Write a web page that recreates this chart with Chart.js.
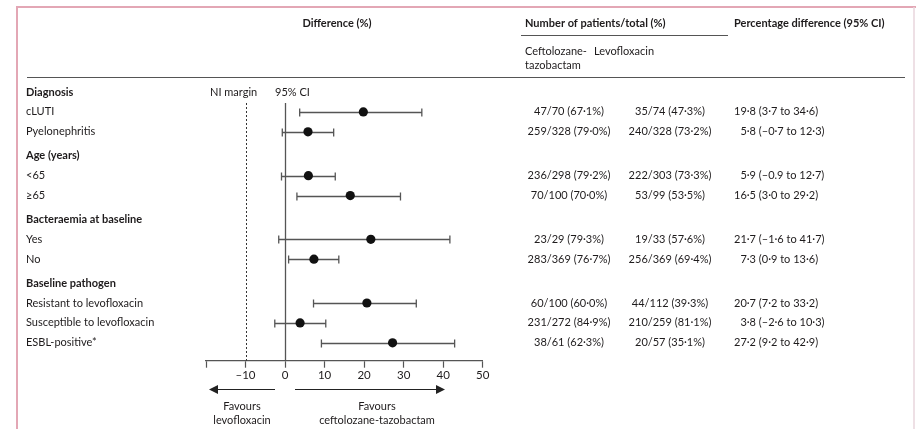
<!DOCTYPE html>
<html>
<head>
<meta charset="utf-8">
<script src="https://cdn.jsdelivr.net/npm/chart.js@4.4.0/dist/chart.umd.min.js"></script>
<style>
html,body{margin:0;padding:0;background:#fff;}
#wrap{position:relative;width:916px;height:429px;}
</style>
</head>
<body>
<div id="wrap"><canvas id="c" width="916" height="429"></canvas></div>
<script>
// ---- data ----
const groups = ["Diagnosis", "Age (years)", "Bacteraemia at baseline", "Baseline pathogen"];
const groupSizes = [2, 2, 2, 3];
const subgroups = ["cLUTI", "Pyelonephritis", "<65", "\u226565", "Yes", "No",
  "Resistant to levofloxacin", "Susceptible to levofloxacin", "ESBL-positive*"];
const estimate = [19.8, 5.8, 5.9, 16.5, 21.7, 7.3, 20.7, 3.8, 27.2];
const ciLow    = [3.7, -0.7, -0.9, 3.0, -1.6, 0.9, 7.2, -2.6, 9.2];
const ciHigh   = [34.6, 12.3, 12.7, 29.2, 41.7, 13.6, 33.2, 10.3, 42.9];
const ceftoText = ["47/70 (67\u00b71%)", "259/328 (79\u00b70%)", "236/298 (79\u00b72%)", "70/100 (70\u00b70%)",
  "23/29 (79\u00b73%)", "283/369 (76\u00b77%)", "60/100 (60\u00b70%)", "231/272 (84\u00b79%)", "38/61 (62\u00b73%)"];
const levoText = ["35/74 (47\u00b73%)", "240/328 (73\u00b72%)", "222/303 (73\u00b73%)", "53/99 (53\u00b75%)",
  "19/33 (57\u00b76%)", "256/369 (69\u00b74%)", "44/112 (39\u00b73%)", "210/259 (81\u00b71%)", "20/57 (35\u00b71%)"];
const diffText = ["19\u00b78 (3\u00b77 to 34\u00b76)", "5\u00b78 (\u20130\u00b77 to 12\u00b73)", "5\u00b79 (\u20130.9 to 12\u00b77)",
  "16\u00b75 (3\u00b70 to 29\u00b72)", "21\u00b77 (\u20131\u00b76 to 41\u00b77)", "7\u00b73 (0\u00b79 to 13\u00b76)",
  "20\u00b77 (7\u00b72 to 33\u00b72)", "3\u00b78 (\u20132\u00b76 to 10\u00b73)", "27\u00b72 (9\u00b72 to 42\u00b79)"];
const xTicks = [-20, -10, 0, 10, 20, 30, 40, 50];
const niMargin = -10;

// ---- derive row positions from group structure ----
const headerRows = []; const subRows = [];
(function(){
  let pos = 0;
  groups.forEach((g, gi) => {
    if (gi > 0) pos += 0.2;
    headerRows.push({label: g, y: pos});
    pos += 1;
    for (let k = 0; k < groupSizes[gi]; k++) { subRows.push(pos); pos += 1; }
  });
})();

const FONT = "Lato, 'Open Sans', sans-serif";
const TXT = "#1e1b1c";

const overlay = {
  id: 'overlay',
  beforeDatasetsDraw(chart) {
    const {ctx, scales:{x, y}} = chart;
    ctx.save();
    const yTop = y.getPixelForValue(0.55), yBot = chart.chartArea.bottom;
    // zero line
    ctx.strokeStyle = "#555"; ctx.lineWidth = 1.3;
    const x0 = Math.round(x.getPixelForValue(0)) + 0.5;
    ctx.beginPath(); ctx.moveTo(x0, yTop); ctx.lineTo(x0, yBot); ctx.stroke();
    // NI margin
    ctx.setLineDash([2, 2]); ctx.lineWidth = 1; ctx.strokeStyle = "#333";
    const xn = Math.round(x.getPixelForValue(niMargin)) + 0.5;
    ctx.beginPath(); ctx.moveTo(xn, yTop); ctx.lineTo(xn, yBot); ctx.stroke();
    ctx.setLineDash([]);
    // CI bars
    ctx.strokeStyle = "#555"; ctx.lineWidth = 1.3;
    subRows.forEach((r, i) => {
      const py = Math.round(y.getPixelForValue(r)) + 0.5;
      const x1 = x.getPixelForValue(ciLow[i]), x2 = x.getPixelForValue(ciHigh[i]);
      ctx.beginPath();
      ctx.moveTo(x1, py); ctx.lineTo(x2, py);
      ctx.moveTo(x1, py - 4); ctx.lineTo(x1, py + 4);
      ctx.moveTo(x2, py - 4); ctx.lineTo(x2, py + 4);
      ctx.stroke();
    });
    ctx.restore();
  },
  afterDraw(chart) {
    const {ctx, scales:{x, y}} = chart;
    ctx.save();
    // border
    ctx.strokeStyle = "#e3a7b5"; ctx.lineWidth = 2;
    ctx.beginPath(); ctx.moveTo(17, 429); ctx.lineTo(17, 7); ctx.lineTo(916, 7); ctx.stroke();
    ctx.strokeStyle = "#e8d6dc"; ctx.lineWidth = 1.5;
    ctx.beginPath(); ctx.moveTo(914, 7); ctx.lineTo(914, 429); ctx.stroke();
    // header rules
    ctx.strokeStyle = "#555"; ctx.lineWidth = 1.2;
    ctx.beginPath(); ctx.moveTo(27, 77.5); ctx.lineTo(905, 77.5); ctx.stroke();
    ctx.lineWidth = 1;
    ctx.beginPath(); ctx.moveTo(521, 35.5); ctx.lineTo(728, 35.5); ctx.stroke();

    ctx.fillStyle = TXT; ctx.textBaseline = "middle";
    // headers
    ctx.font = "bold 11px " + FONT;
    ctx.textAlign = "center"; ctx.fillText("Difference (%)", 337, 23);
    ctx.textAlign = "left";
    ctx.fillText("Number of patients/total (%)", 525, 23);
    ctx.fillText("Percentage difference (95% CI)", 734, 23);
    ctx.font = "11px " + FONT;
    ctx.fillText("Ceftolozane-", 525, 51);
    ctx.fillText("tazobactam", 525, 65);
    ctx.fillText("Levofloxacin", 594, 51);
    // NI margin / 95% CI
    ctx.fillText("NI margin", 210, y.getPixelForValue(0));
    ctx.fillText("95% CI", 275, y.getPixelForValue(0));
    // row labels
    headerRows.forEach(h => {
      ctx.font = "bold 11px " + FONT; ctx.textAlign = "left";
      ctx.fillText(h.label, 26, y.getPixelForValue(h.y));
    });
    ctx.font = "11px " + FONT;
    const digitW = ctx.measureText("0").width;
    subRows.forEach((r, i) => {
      const py = y.getPixelForValue(r);
      ctx.textAlign = "left"; ctx.fillText(subgroups[i], 26, py);
      ctx.textAlign = "center";
      ctx.fillText(ceftoText[i], 569, py);
      ctx.fillText(levoText[i], 670, py);
      ctx.textAlign = "left";
      const lead = diffText[i].indexOf("\u00b7");
      ctx.fillText(diffText[i], 734 + (2 - lead) * digitW, py);
    });
    // arrows
    ctx.strokeStyle = "#222"; ctx.fillStyle = "#222"; ctx.lineWidth = 1.2;
    const ay = 389.5;
    ctx.beginPath(); ctx.moveTo(216, ay); ctx.lineTo(275, ay); ctx.stroke();
    ctx.beginPath(); ctx.moveTo(209, ay); ctx.lineTo(218, ay - 4.5); ctx.lineTo(218, ay + 4.5); ctx.closePath(); ctx.fill();
    ctx.beginPath(); ctx.moveTo(295, ay); ctx.lineTo(438, ay); ctx.stroke();
    ctx.beginPath(); ctx.moveTo(445, ay); ctx.lineTo(436, ay - 4.5); ctx.lineTo(436, ay + 4.5); ctx.closePath(); ctx.fill();
    ctx.fillStyle = TXT; ctx.textAlign = "center"; ctx.font = "11px " + FONT;
    ctx.fillText("Favours", 242, 406);
    ctx.fillText("levofloxacin", 242, 420);
    ctx.fillText("Favours", 377, 406);
    ctx.fillText("ceftolozane-tazobactam", 377, 420);
    ctx.restore();
  }
};

new Chart(document.getElementById('c'), {
  type: 'scatter',
  data: {
    datasets: [{
      data: subRows.map((r, i) => ({x: estimate[i], y: r})),
      pointRadius: 4.6,
      pointHoverRadius: 4.6,
      backgroundColor: "#111",
      borderColor: "#111",
      borderWidth: 0
    }]
  },
  options: {
    responsive: false,
    animation: false,
    events: [],
    layout: { padding: { left: 206, right: 433.3, top: 82.1, bottom: 44.3 } },
    plugins: { legend: { display: false }, tooltip: { enabled: false } },
    scales: {
      x: {
        type: 'linear', min: -20, max: 50,
        afterBuildTicks: s => { s.ticks = xTicks.map(v => ({value: v})); },
        afterFit: s => { s.height = 24; },
        ticks: {
          color: TXT, font: { family: FONT, size: 11.5 }, padding: 1,
          callback: v => v === -20 ? '' : (v < 0 ? '\u2013' + Math.abs(v) : String(v))
        },
        grid: { drawOnChartArea: false, drawTicks: true, tickLength: 7, tickColor: "#555", tickWidth: 1.2 },
        border: { display: true, color: "#555", width: 1.3 }
      },
      y: {
        type: 'linear', reverse: true, min: -0.5, max: 13.5, display: false
      }
    }
  },
  plugins: [overlay]
});
</script>
</body>
</html>
